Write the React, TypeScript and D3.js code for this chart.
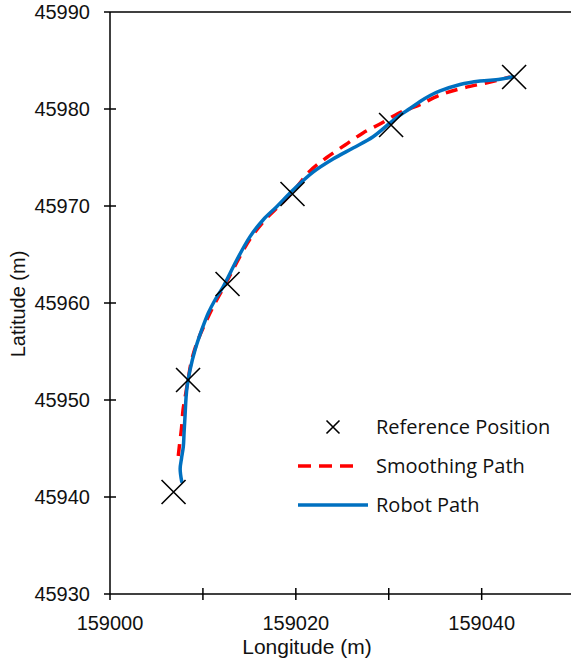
import React, { useRef, useEffect } from "react";
import * as d3 from "d3";

// reference positions (longitude, latitude in m)
const refLon = [159006.84, 159008.4, 159012.65, 159019.64, 159030.25, 159043.49];
const refLat = [45940.52, 45952.06, 45961.96, 45971.24, 45978.35, 45983.3];

// smoothing path (red dashed)
const smoothLon = [
  159007.35, 159007.48, 159007.7, 159007.86, 159008.07, 159008.4, 159008.79, 159009.47,
  159010.41, 159011.3, 159012.38, 159013.67, 159015.07, 159016.68, 159018.3, 159019.91,
  159021.53, 159023.33, 159025.3, 159027.23, 159029.25, 159031.0, 159032.29, 159033.37,
  159035.52, 159037.99, 159040.58, 159043.06
];
const smoothLat = [
  45944.23, 45945.36, 45947.11, 45948.97, 45950.21, 45952.06, 45954.12, 45956.19,
  45958.25, 45960.0, 45961.86, 45964.23, 45966.6, 45968.56, 45970.1, 45971.75,
  45973.61, 45975.0, 45976.29, 45977.53, 45978.56, 45979.54, 45980.05, 45980.46,
  45981.44, 45982.16, 45982.71, 45983.3
];

// robot path (blue solid)
const robotLon = [
  159007.72, 159007.55, 159007.7, 159007.89, 159007.97, 159008.07, 159008.18, 159008.29,
  159008.61, 159009.15, 159009.87, 159010.58, 159011.3, 159012.16, 159013.64, 159015.07,
  159016.47, 159017.94, 159019.7, 159021.85, 159024.0, 159026.16, 159028.31, 159030.14,
  159031.22, 159032.29, 159033.37, 159034.45, 159035.52, 159037.67, 159039.83, 159041.98,
  159043.38
];
const robotLat = [
  45941.58, 45942.9, 45944.0, 45945.19, 45946.6, 45948.28, 45950.2, 45951.34,
  45953.09, 45955.15, 45957.22, 45958.97, 45960.31, 45961.65, 45964.43, 45966.84,
  45968.56, 45969.93, 45971.65, 45973.5, 45974.85, 45975.98, 45977.14, 45978.56,
  45979.38, 45980.05, 45980.77, 45981.39, 45981.86, 45982.53, 45982.89, 45983.06,
  45983.33
];

const xTicks = [159000, 159010, 159020, 159030, 159040, 159050];
const yTicks = [45930, 45940, 45950, 45960, 45970, 45980, 45990];

const legendItems = ["Reference Position", "Smoothing Path", "Robot Path"];

const W = 571;
const H = 659;
const left = 110;
const top = 12;
const bottom = 594;
const right = 574.6;

export default function App() {
  const ref = useRef<SVGSVGElement>(null);

  useEffect(() => {
    const svg = d3.select(ref.current);
    svg.selectAll("*").remove();

    const x = d3.scaleLinear().domain([159000, 159050]).range([left, right]);
    const y = d3.scaleLinear().domain([45930, 45990]).range([bottom, top]);

    const tickFont = "Liberation Sans, Arial, Helvetica, sans-serif";

    // spines
    svg.append("line").attr("x1", left).attr("x2", W).attr("y1", top).attr("y2", top)
      .attr("stroke", "#000").attr("stroke-width", 1.5);
    svg.append("line").attr("x1", left).attr("x2", W).attr("y1", bottom).attr("y2", bottom)
      .attr("stroke", "#000").attr("stroke-width", 1.5);
    svg.append("line").attr("x1", left).attr("x2", left).attr("y1", top).attr("y2", bottom)
      .attr("stroke", "#000").attr("stroke-width", 1.5);

    // y ticks
    yTicks.forEach(t => {
      svg.append("line")
        .attr("x1", left - 6).attr("x2", t === 45930 || t === 45990 ? left : left + 6)
        .attr("y1", y(t)).attr("y2", y(t))
        .attr("stroke", "#000").attr("stroke-width", 1.5);
      svg.append("text")
        .attr("x", 90).attr("y", y(t)).attr("dy", "0.36em")
        .attr("text-anchor", "end")
        .attr("font-family", tickFont).attr("font-size", 20)
        .attr("fill", "#111")
        .text(t);
    });

    // x ticks
    xTicks.forEach(t => {
      svg.append("line")
        .attr("x1", x(t)).attr("x2", x(t))
        .attr("y1", t === 159000 ? bottom : bottom - 6).attr("y2", bottom + 6)
        .attr("stroke", "#000").attr("stroke-width", 1.5);
      if ((t - 159000) % 20 === 0) {
        svg.append("text")
          .attr("x", x(t)).attr("y", 630)
          .attr("text-anchor", "middle")
          .attr("font-family", tickFont).attr("font-size", 20)
          .attr("fill", "#111")
          .text(t);
      }
    });

    // axis titles
    svg.append("text")
      .attr("x", 307).attr("y", 654)
      .attr("text-anchor", "middle")
      .attr("font-family", tickFont).attr("font-size", 21)
      .attr("fill", "#111")
      .text("Longitude (m)");
    svg.append("text")
      .attr("transform", "translate(25, 304) rotate(-90)")
      .attr("text-anchor", "middle")
      .attr("font-family", tickFont).attr("font-size", 20)
      .attr("fill", "#111")
      .text("Latitude (m)");

    const line = d3.line<[number, number]>()
      .x(d => x(d[0]))
      .y(d => y(d[1]))
      .curve(d3.curveCatmullRom.alpha(0.5));

    const smooth = smoothLon.map((v, i) => [v, smoothLat[i]] as [number, number]);
    const robot = robotLon.map((v, i) => [v, robotLat[i]] as [number, number]);

    svg.append("path")
      .attr("d", line(smooth))
      .attr("fill", "none")
      .attr("stroke", "#ff0000")
      .attr("stroke-width", 3.5)
      .attr("stroke-dasharray", "12,8");

    svg.append("path")
      .attr("d", line(robot))
      .attr("fill", "none")
      .attr("stroke", "#0070c0")
      .attr("stroke-width", 3.5)
      .attr("stroke-linecap", "round");

    // reference crosses
    const s = 12;
    refLon.forEach((v, i) => {
      const cx = x(v);
      const cy = y(refLat[i]);
      svg.append("path")
        .attr("d", `M${cx - s},${cy - s}L${cx + s},${cy + s}M${cx - s},${cy + s}L${cx + s},${cy - s}`)
        .attr("stroke", "#000").attr("stroke-width", 1.6).attr("fill", "none");
    });

    // legend
    const legFont = "Open Sans, Noto Sans, sans-serif";
    const lg = svg.append("g");
    const rows = [427, 466, 505];
    legendItems.forEach((name, i) => {
      lg.append("text")
        .attr("x", 376).attr("y", rows[i]).attr("dy", "0.35em")
        .attr("font-family", legFont).attr("font-size", 20)
        .attr("fill", "#111")
        .text(name);
    });
    const ms = 6.5;
    lg.append("path")
      .attr("d", `M${333 - ms},${rows[0] - ms}L${333 + ms},${rows[0] + ms}M${333 - ms},${rows[0] + ms}L${333 + ms},${rows[0] - ms}`)
      .attr("stroke", "#000").attr("stroke-width", 1.6);
    lg.append("line")
      .attr("x1", 298).attr("x2", 356).attr("y1", rows[1]).attr("y2", rows[1])
      .attr("stroke", "#ff0000").attr("stroke-width", 3.5)
      .attr("stroke-dasharray", "13,8");
    lg.append("line")
      .attr("x1", 298).attr("x2", 368).attr("y1", rows[2]).attr("y2", rows[2])
      .attr("stroke", "#0070c0").attr("stroke-width", 3.5);
  }, []);

  return (
    <svg
      ref={ref}
      width={W}
      height={H}
      style={{ position: "absolute", left: 0, top: 0, background: "#fff" }}
    />
  );
}
